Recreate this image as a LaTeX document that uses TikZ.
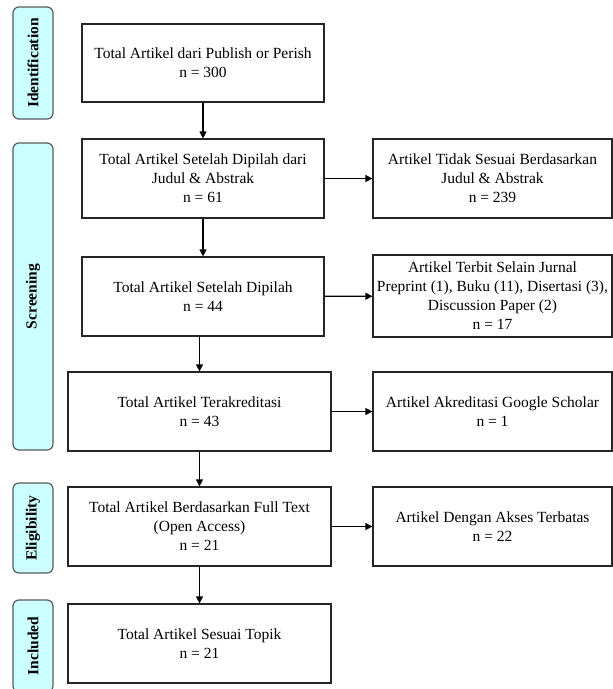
\documentclass[tikz,border=0pt]{standalone}
\usepackage{fontspec}
\setmainfont{Liberation Serif}
\usetikzlibrary{arrows.meta}

\definecolor{phasefill}{HTML}{CCFFFF}
\definecolor{phaseline}{HTML}{5A5A5A}

\tikzset{
  stepbox/.style={draw=black!85, line width=1.2pt, rectangle, align=center,
    inner sep=1pt, font=\fontsize{15.5}{19}\selectfont},
  phase/.style={draw=phaseline, fill=phasefill, line width=1.2pt, rectangle,
    rounded corners=6pt, minimum width=40pt, inner sep=0pt},
  phasetext/.style={rotate=90, font=\fontsize{15.5}{19}\selectfont\bfseries},
  flow/.style={line width=1.2pt, -{Triangle[length=7pt,width=7pt]}}
}

\begin{document}
\begin{tikzpicture}[x=1pt, y=-1pt]
\useasboundingbox (0,0) rectangle (613,689);

% phases on the left
\node [phase, minimum height=112pt] (ident) at (33,63) {};
\node [phasetext] at (ident) {Identification};
\node [phase, minimum height=307pt] (screen) at (33,296.5) {};
\node [phasetext] at (screen) {Screening};
\node [phase, minimum height=90pt] (elig) at (33,528) {};
\node [phasetext] at (elig) {Eligibility};
\node [phase, minimum height=92pt] (incl) at (33,646) {};
\node [phasetext] at (incl) {Included};

% main column
\node [stepbox, minimum width=242pt, minimum height=78pt] (pop) at (203,63)
  {Total Artikel dari Publish or Perish\\n = 300};
\node [stepbox, minimum width=242pt, minimum height=79pt] (judul) at (203,178.5)
  {Total Artikel Setelah Dipilah dari\\Judul \& Abstrak\\n = 61};
\node [stepbox, minimum width=242pt, minimum height=79pt] (pilah) at (203,296.5)
  {Total Artikel Setelah Dipilah\\n = 44};
\node [stepbox, minimum width=263pt, minimum height=79pt] (akred) at (199.5,411.5)
  {Total Artikel Terakreditasi\\n = 43};
\node [stepbox, minimum width=263pt, minimum height=79pt] (full) at (199.5,526.5)
  {Total Artikel Berdasarkan Full Text\\(Open Access)\\n = 21};
\node [stepbox, minimum width=263pt, minimum height=79pt] (topik) at (199.5,643.5)
  {Total Artikel Sesuai Topik\\n = 21};

% excluded column
\node [stepbox, minimum width=239pt, minimum height=79pt] (tdk) at (492.5,178.5)
  {Artikel Tidak Sesuai Berdasarkan\\Judul \& Abstrak\\n = 239};
\node [stepbox, minimum width=239pt, minimum height=82pt] (terbit) at (492.5,296)
  {Artikel Terbit Selain Jurnal\\Preprint (1), Buku (11), Disertasi (3),\\Discussion Paper (2)\\n = 17};
\node [stepbox, minimum width=239pt, minimum height=79pt] (gs) at (492.5,411.5)
  {Artikel Akreditasi Google Scholar\\n = 1};
\node [stepbox, minimum width=239pt, minimum height=79pt] (akses) at (492.5,526.5)
  {Artikel Dengan Akses Terbatas\\n = 22};

% arrows
\draw [flow] (pop) -- (judul);
\draw [flow] (judul) -- (pilah);
\draw [flow] (pilah.south -| akred.north) -- (akred);
\draw [flow] (akred) -- (full);
\draw [flow] (full) -- (topik);

\draw [flow] (judul) -- (tdk);
\draw [flow] (pilah) -- (terbit);
\draw [flow] (akred) -- (gs);
\draw [flow] (full) -- (akses);
\end{tikzpicture}
\end{document}
